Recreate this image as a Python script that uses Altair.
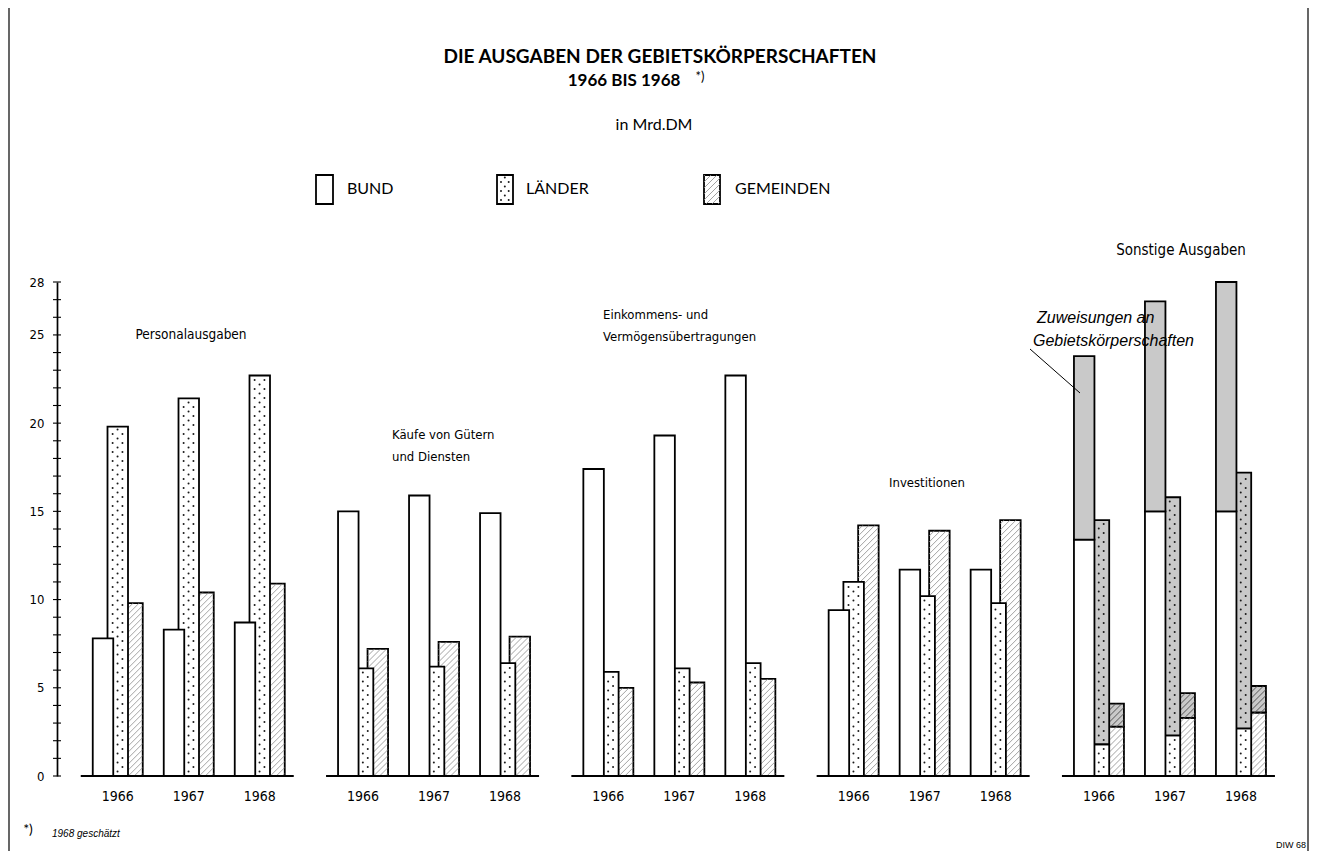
import math
import altair as alt
import pandas as pd

# ---------------- data (Mrd. DM) ----------------
YEARS = [1966, 1967, 1968]
GROUPS = ["Personalausgaben", "Käufe von Gütern und Diensten",
          "Einkommens- und Vermögensübertragungen", "Investitionen", "Sonstige Ausgaben"]
SERIES = ["BUND", "LÄNDER", "GEMEINDEN"]

# own expenditure per group, years 1966, 1967, 1968
BUND = [[7.8, 8.3, 8.7], [15.0, 15.9, 14.9], [17.4, 19.3, 22.7], [9.4, 11.7, 11.7], [13.4, 15.0, 15.0]]
LAENDER = [[19.8, 21.4, 22.7], [6.1, 6.2, 6.4], [5.9, 6.1, 6.4], [11.0, 10.2, 9.8], [1.8, 2.3, 2.7]]
GEMEINDEN = [[9.8, 10.4, 10.9], [7.2, 7.6, 7.9], [5.0, 5.3, 5.5], [14.2, 13.9, 14.5], [2.8, 3.3, 3.6]]
# Zuweisungen an Gebietskörperschaften (stacked on "Sonstige Ausgaben")
ZUW_BUND = [10.4, 11.9, 13.0]
ZUW_LAENDER = [12.7, 13.5, 14.5]
ZUW_GEMEINDEN = [1.3, 1.4, 1.5]

Y_TICKS = [0, 5, 10, 15, 20, 25, 28]
Y_MINOR = list(range(0, 29))

# ---------------- layout ----------------
PLOT_W, PLOT_H = 1252, 843
PAD_L = 49
OX, OY = 8 + PAD_L, 8          # page position of plot origin
Y_TOP, Y_BOT = 274, 768        # plot px for 28 and 0
YMAX = 28
YPX = (Y_BOT - Y_TOP) / YMAX
XPX = 71.0
X0 = -46 / XPX
GSTEP = 245.3 / XPX
SSTEP = 14.75 / XPX
HW = 10.25 / XPX

COND = "'DejaVu Sans Condensed', 'Liberation Sans Narrow', 'DejaVu Sans', sans-serif"
GEO = "Lato, 'Noto Sans', sans-serif"
HELV = "'Liberation Sans', Arial, sans-serif"


def ux(px):
    return X0 + (px - OX) / XPX


def uy(py):
    return (Y_BOT - (py - OY)) / YPX


def hatch_segments(xl, xr, yb, yt, spacing=6.0):
    w = (xr - xl) * XPX
    b, t = yb * YPX, yt * YPX
    segs = []
    c = math.floor((b - w) / spacing) * spacing
    while c <= t:
        xa = max(0.0, b - c)
        xb = min(w, t - c)
        if xb - xa > 0.6:
            segs.append((xl + xa / XPX, (c + xa) / YPX, xl + xb / XPX, (c + xb) / YPX))
        c += spacing
    return segs


def dot_points(xl, xr, yb, yt, step=4.5):
    w = (xr - xl) * XPX
    b, t = yb * YPX, yt * YPX
    pts = []
    k = math.ceil((b + 2.5) / step)
    while k * step <= t - 2.0:
        cols = (0.25, 0.73) if k % 2 == 0 else (0.49,)
        for f in cols:
            pts.append((xl + f * w / XPX, k * step / YPX))
        k += 1
    return pts


# ---------------- tables ----------------
own = {"BUND": BUND, "LÄNDER": LAENDER, "GEMEINDEN": GEMEINDEN}
zuw = {"BUND": ZUW_BUND, "LÄNDER": ZUW_LAENDER, "GEMEINDEN": ZUW_GEMEINDEN}

bar_rows = []
for g, grp in enumerate(GROUPS):
    for yi, yr in enumerate(YEARS):
        for s, ser in enumerate(SERIES):
            c = g * GSTEP + yi + s * SSTEP
            v = own[ser][g][yi]
            bar_rows.append(dict(series=ser, group=grp, year=yr, part="eigen",
                                 xl=c - HW, xr=c + HW, y0=0.0, y1=v))
            if grp == "Sonstige Ausgaben":
                bar_rows.append(dict(series=ser, group=grp, year=yr, part="Zuweisungen",
                                     xl=c - HW, xr=c + HW, y0=v, y1=v + zuw[ser][yi]))
bars_df = pd.DataFrame(bar_rows)

# legend swatches
LEG = [("BUND", 316, 333), ("LÄNDER", 497, 513), ("GEMEINDEN", 704, 720)]
leg_df = pd.DataFrame([dict(series=s, part="eigen", xl=ux(a), xr=ux(b), y0=uy(204), y1=uy(175))
                       for s, a, b in LEG])

all_rects = pd.concat([bars_df, leg_df], ignore_index=True)

hatch_rows = []
for r in all_rects[all_rects.series == "GEMEINDEN"].itertuples():
    for x1, y1, x2, y2 in hatch_segments(r.xl, r.xr, r.y0, r.y1):
        hatch_rows.append(dict(part=r.part, x=x1, y=y1, x2=x2, y2=y2))
hatch_df = pd.DataFrame(hatch_rows)

dot_rows = []
for r in all_rects[all_rects.series == "LÄNDER"].itertuples():
    for x1, y1 in dot_points(r.xl, r.xr, r.y0, r.y1):
        dot_rows.append(dict(part=r.part, x=x1, y=y1))
dots_df = pd.DataFrame(dot_rows)

base_df = pd.DataFrame([dict(group=grp, xl=g * GSTEP - HW - 12 / XPX,
                             xr=g * GSTEP + 2 + 2 * SSTEP + HW + 9 / XPX, y=0.0)
                        for g, grp in enumerate(GROUPS)])
year_df = pd.DataFrame([dict(group=grp, year=str(yr), xc=g * GSTEP + yi + SSTEP)
                        for g, grp in enumerate(GROUPS) for yi, yr in enumerate(YEARS)])
tick_df = pd.DataFrame({"k": Y_MINOR})

# ---------------- encodings ----------------
XS = alt.Scale(domain=[X0, X0 + PLOT_W / XPX], nice=False, zero=False)
YS = alt.Scale(domain=[0, YMAX], range=[Y_BOT, Y_TOP], nice=False, zero=False)
YAXIS = alt.Axis(values=Y_TICKS, title=None, grid=False, ticks=False, tickSize=0,
                 domainColor="black", domainWidth=1.7, labelFont=COND, labelFontSize=13,
                 labelColor="black", labelPadding=13, labelOverlap=False, labelFlush=False)
FILL = alt.Scale(domain=["eigen", "Zuweisungen"], range=["white", "#c9c9c9"])


def rects(df):
    return alt.Chart(df).mark_rect(stroke="black", strokeWidth=1.8).encode(
        x=alt.X("xl:Q", scale=XS, axis=None), x2="xr:Q",
        y=alt.Y("y0:Q", scale=YS, axis=YAXIS), y2="y1:Q",
        fill=alt.Fill("part:N", scale=FILL, legend=None))


def hatches(part, color, width):
    d = hatch_df[hatch_df.part == part]
    return alt.Chart(d).mark_rule(color=color, strokeWidth=width).encode(
        x=alt.X("x:Q", scale=XS, axis=None), x2="x2:Q",
        y=alt.Y("y:Q", scale=YS, axis=YAXIS), y2="y2:Q")


ONE = pd.DataFrame({"a": [1]})


def txt(s, px, py, size=13, font=COND, weight="normal", style="normal", align="center"):
    return alt.Chart(ONE).mark_text(text=s, fontSize=size, font=font, fontWeight=weight,
                                    fontStyle=style, align=align, baseline="middle",
                                    color="black").encode(
        x=alt.value(px - OX), y=alt.value(py - OY))


def line(x1, y1, x2, y2, w=1.0, color="black"):
    return alt.Chart(ONE).mark_rule(color=color, strokeWidth=w).encode(
        x=alt.value(x1 - OX), y=alt.value(y1 - OY), x2=alt.value(x2 - OX), y2=alt.value(y2 - OY))


layers = []
# y axis minor/major ticks crossing the axis line
layers.append(alt.Chart(tick_df).mark_rule(color="black", strokeWidth=1.1).encode(
    y=alt.Y("k:Q", scale=YS, axis=YAXIS), x=alt.value(-4), x2=alt.value(4)))
# bars: Gemeinden behind, Länder, Bund in front
layers.append(rects(all_rects[all_rects.series == "GEMEINDEN"]))
layers.append(hatches("eigen", "#8a8a8a", 0.8))
layers.append(hatches("Zuweisungen", "#4a4a4a", 0.9))
layers.append(rects(all_rects[all_rects.series == "LÄNDER"]))
layers.append(alt.Chart(dots_df).mark_circle(size=4, color="#1a1a1a", opacity=1).encode(
    x=alt.X("x:Q", scale=XS, axis=None), y=alt.Y("y:Q", scale=YS, axis=YAXIS)))
layers.append(rects(all_rects[all_rects.series == "BUND"]))
# group baselines
layers.append(alt.Chart(base_df).mark_rule(color="black", strokeWidth=1.8).encode(
    x=alt.X("xl:Q", scale=XS, axis=None), x2="xr:Q", y=alt.Y("y:Q", scale=YS, axis=YAXIS)))
# year labels
layers.append(alt.Chart(year_df).mark_text(font=COND, fontSize=14, color="black",
                                           baseline="middle").encode(
    x=alt.X("xc:Q", scale=XS, axis=None), y=alt.value(797 - OY), text="year:N"))

# titles
layers.append(txt("DIE AUSGABEN DER GEBIETSKÖRPERSCHAFTEN", 660, 57, size=19, font=GEO, weight="bold"))
layers.append(txt("1966 BIS 1968", 624, 81, size=17, font=GEO, weight="bold"))
layers.append(txt("*)", 700, 77, size=13, font=GEO))
layers.append(txt("in Mrd.DM", 654, 125, size=16, font=GEO))
# legend labels
layers.append(txt("BUND", 347, 189, size=16, font=GEO, align="left"))
layers.append(txt("LÄNDER", 526, 189, size=16, font=GEO, align="left"))
layers.append(txt("GEMEINDEN", 735, 189, size=16, font=GEO, align="left"))
# group titles
layers.append(txt("Personalausgaben", 191, 335, size=13.5))
layers.append(txt("Käufe von Gütern", 392, 435, align="left"))
layers.append(txt("und Diensten", 392, 457, align="left"))
layers.append(txt("Einkommens- und", 603, 315, align="left"))
layers.append(txt("Vermögensübertragungen", 603, 337, align="left"))
layers.append(txt("Investitionen", 927, 483))
layers.append(txt("Sonstige Ausgaben", 1181, 250, size=15))
# annotation
layers.append(txt("Zuweisungen an", 1037, 318, size=16, font=HELV, style="italic", align="left"))
layers.append(txt("Gebietskörperschaften", 1033, 341, size=16, font=HELV, style="italic", align="left"))
layers.append(line(1030, 349, 1080, 393, w=1.0))
# footnote and source
layers.append(txt("*)", 28, 830, size=14, font=GEO))
layers.append(txt("1968 geschätzt", 52, 834, size=10, font=HELV, style="italic", align="left"))
layers.append(txt("DIW 68", 1306, 845, size=9, font=HELV, align="right"))
# frame
layers.append(line(9, 8, 9, 851, w=1.2))
layers.append(line(1308, 8, 1308, 851, w=1.2))

chart = alt.layer(*layers).properties(
    width=PLOT_W, height=PLOT_H,
    padding={"left": PAD_L, "top": 0, "right": 0, "bottom": 0},
    autosize=alt.AutoSizeParams(type="none"),
    background="white",
).configure_view(strokeWidth=0)

chart.save("out.html", embed_options={"renderer": "svg", "actions": False})
